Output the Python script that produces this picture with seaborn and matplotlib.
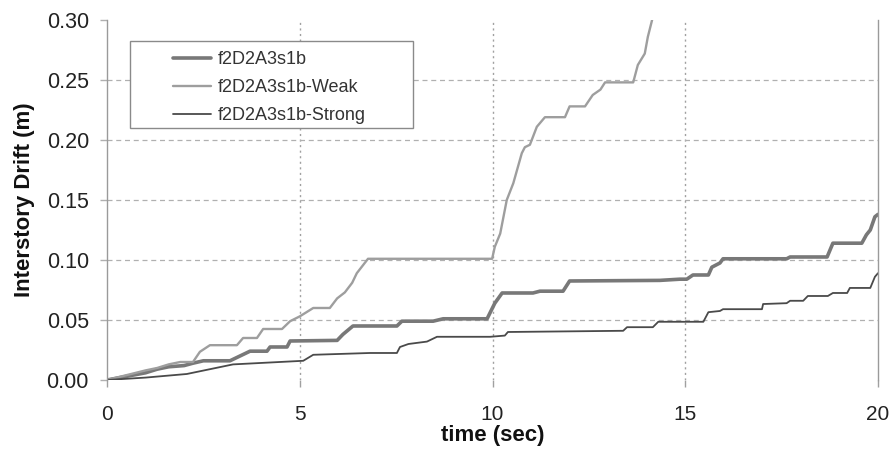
import matplotlib
matplotlib.use("Agg")
import matplotlib.pyplot as plt
from matplotlib.patches import Rectangle
import seaborn as sns
import pandas as pd

# Interstory drift histories (time in s, drift in m)
base_t = [0, 0.5, 1.0, 1.3, 1.6, 2.0, 2.23, 2.5, 3.19, 3.45, 3.71, 4.15, 4.23, 4.67,
          4.75, 5.97, 6.12, 6.38, 7.52, 7.65, 8.46, 8.72, 9.86, 10.06, 10.25, 11.05,
          11.23, 11.83, 12.0, 14.34, 14.86, 15.04, 15.2, 15.6, 15.69, 15.9, 15.98,
          17.63, 17.72, 18.68, 18.83, 19.58, 19.7, 19.8, 19.92, 20.0]
base_d = [0, 0.003, 0.006, 0.009, 0.011, 0.012, 0.014, 0.016, 0.016, 0.020, 0.024,
          0.024, 0.0275, 0.0275, 0.0325, 0.033, 0.038, 0.045, 0.045, 0.049, 0.049,
          0.051, 0.051, 0.064, 0.0725, 0.0725, 0.074, 0.074, 0.0825, 0.083, 0.084,
          0.084, 0.0875, 0.0875, 0.094, 0.0975, 0.101, 0.101, 0.1025, 0.1025, 0.114,
          0.114, 0.121, 0.125, 0.136, 0.138]

weak_t = [0, 0.5, 1.0, 1.3, 1.6, 1.9, 2.23, 2.41, 2.67, 3.37, 3.53, 3.89, 4.05, 4.54,
          4.75, 5.0, 5.35, 5.78, 5.97, 6.17, 6.36, 6.48, 6.77, 9.99, 10.06, 10.2,
          10.37, 10.54, 10.76, 10.84, 10.97, 11.15, 11.36, 11.88, 12.0, 12.4, 12.6,
          12.8, 12.92, 13.65, 13.77, 13.95, 14.03, 14.14]
weak_d = [0, 0.004, 0.008, 0.010, 0.013, 0.015, 0.015, 0.0235, 0.029, 0.029, 0.035,
          0.035, 0.0425, 0.0425, 0.049, 0.053, 0.060, 0.060, 0.068, 0.073, 0.081,
          0.089, 0.101, 0.101, 0.111, 0.122, 0.150, 0.164, 0.189, 0.194, 0.196,
          0.211, 0.219, 0.219, 0.228, 0.228, 0.2375, 0.242, 0.248, 0.248, 0.2625,
          0.272, 0.286, 0.300]

strong_t = [0, 1.0, 2.07, 3.27, 5.09, 5.35, 6.82, 7.52, 7.6, 7.82, 8.3, 8.56, 9.94,
            10.32, 10.4, 13.39, 13.49, 14.16, 14.3, 15.47, 15.6, 15.9, 15.98, 16.99,
            17.02, 17.63, 17.72, 18.06, 18.18, 18.7, 18.83, 19.2, 19.27, 19.8, 19.92,
            20.0]
strong_d = [0, 0.002, 0.005, 0.013, 0.016, 0.021, 0.0225, 0.0225, 0.0275, 0.030,
            0.032, 0.036, 0.036, 0.037, 0.040, 0.041, 0.044, 0.044, 0.0485, 0.0485,
            0.0565, 0.0575, 0.059, 0.059, 0.0633, 0.064, 0.066, 0.066, 0.070, 0.070,
            0.0725, 0.0725, 0.0767, 0.0767, 0.086, 0.089]

names = ["f2D2A3s1b", "f2D2A3s1b-Weak", "f2D2A3s1b-Strong"]
x_ticks = [0, 5, 10, 15, 20]
y_ticks = [0.00, 0.05, 0.10, 0.15, 0.20, 0.25, 0.30]

sns.set_style("white")
plt.rcParams["font.family"] = ["Liberation Sans", "DejaVu Sans"]

fig = plt.figure(figsize=(8.91, 4.49), dpi=100)
ax = fig.add_axes([0.1201, 0.1537, 0.8653, 0.8018])

styles = {
    names[0]: dict(color="#787878", lw=2.6),
    names[1]: dict(color="#9e9e9e", lw=1.7),
    names[2]: dict(color="#4a4a4a", lw=1.3),
}
series = [(base_t, base_d), (weak_t, weak_d), (strong_t, strong_d)]
for name, (t, d) in zip(names, series):
    df = pd.DataFrame({"time": t, "drift": d})
    sns.lineplot(data=df, x="time", y="drift", ax=ax, label=name,
                 estimator=None, sort=False, color=styles[name]["color"],
                 linewidth=styles[name]["lw"])

ax.set_xlim(0, 20)
ax.set_ylim(0, 0.30)
ax.set_xticks(x_ticks)
ax.set_xticklabels([str(v) for v in x_ticks])
ax.set_yticks(y_ticks)
ax.set_yticklabels([f"{v:.2f}" for v in y_ticks])

# Gridlines: dashed horizontals, dotted verticals
ax.grid(True, axis="y", linestyle=(0, (4, 3)), color="#b0b0b0", linewidth=0.9)
ax.grid(True, axis="x", linestyle=(0, (1.5, 2.5)), color="#a0a0a0", linewidth=1.0)
for gl in (ax.get_ygridlines()[0], ax.get_ygridlines()[-1],
           ax.get_xgridlines()[0], ax.get_xgridlines()[-1]):
    gl.set_visible(False)

for side in ("top", "bottom"):
    ax.spines[side].set_visible(False)
for side in ("left", "right"):
    ax.spines[side].set_visible(True)
    ax.spines[side].set_color("#9a9a9a")
    ax.spines[side].set_linewidth(1.0)

ax.tick_params(axis="x", direction="out", length=5, width=1, color="#a0a0a0",
               pad=13, labelsize=15, labelcolor="#222222", bottom=True)
ax.tick_params(axis="y", direction="out", length=5, width=1, color="#b0b0b0",
               pad=8, labelsize=15.5, labelcolor="#222222", left=True)

ax.set_xlabel("time (sec)", fontsize=16, fontweight="bold", labelpad=1, color="#111111")
ax.set_ylabel("Interstory Drift (m)", fontsize=16, fontweight="bold", labelpad=8,
              color="#111111")

# Legend box drawn as a separate rectangle so the entries sit well inside it
ax.add_patch(Rectangle((0.0298, 0.7), 0.367, 0.2417, transform=ax.transAxes,
                       facecolor="white", edgecolor="#8a8a8a", linewidth=1.0,
                       zorder=4))
leg = ax.legend(loc="upper left", bbox_to_anchor=(0.086, 0.913), fontsize=13,
                frameon=False, handlelength=2.1, handletextpad=0.35,
                labelspacing=0.6, borderpad=0, borderaxespad=0)
leg.set_zorder(5)
for txt in leg.get_texts():
    txt.set_color("#333333")

fig.savefig("out.png", dpi=100)
